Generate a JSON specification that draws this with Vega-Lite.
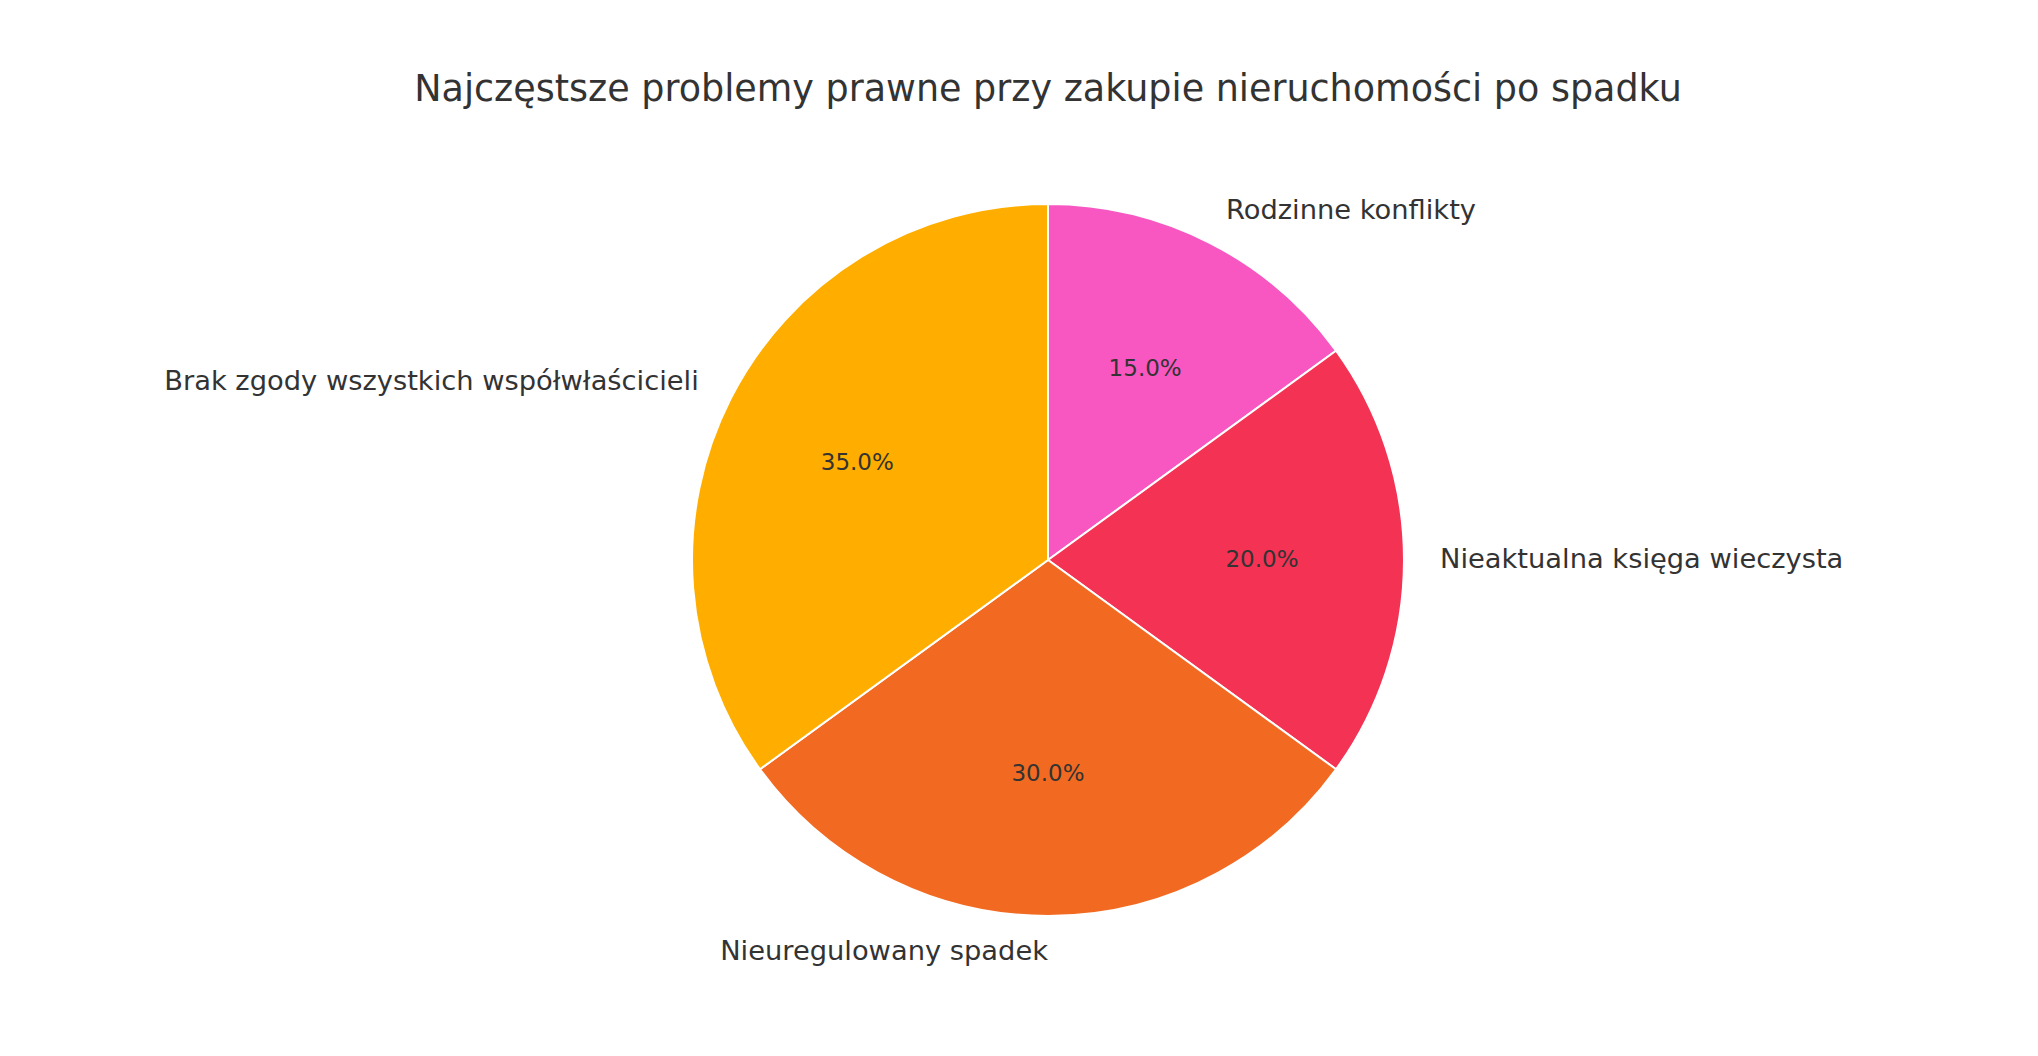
{
  "$schema": "https://vega.github.io/schema/vega-lite/v6.json",
  "autosize": {"type": "none"},
  "width": 1970,
  "height": 712,
  "padding": {"left": 63, "top": 204, "right": 5, "bottom": 140},
  "background": "white",
  "title": {
    "text": "Najczęstsze problemy prawne przy zakupie nieruchomości po spadku",
    "font": "DejaVu Sans",
    "fontSize": 36.5,
    "fontWeight": "normal",
    "color": "#333333",
    "anchor": "middle",
    "offset": 88
  },
  "data": {
    "values": [
      {"category": "Rodzinne konflikty", "value": 15, "ord": 1},
      {"category": "Nieaktualna księga wieczysta", "value": 20, "ord": 2},
      {"category": "Nieuregulowany spadek", "value": 30, "ord": 3},
      {"category": "Brak zgody wszystkich współwłaścicieli", "value": 35, "ord": 4}
    ]
  },
  "transform": [
    {"calculate": "format(datum.value / 100, '.1%')", "as": "pct"}
  ],
  "encoding": {
    "theta": {"field": "value", "type": "quantitative", "stack": true},
    "order": {"field": "ord", "type": "quantitative", "sort": "ascending"}
  },
  "layer": [
    {
      "mark": {"type": "arc", "outerRadius": 356, "stroke": "white", "strokeWidth": 2},
      "encoding": {
        "color": {
          "field": "category",
          "type": "nominal",
          "scale": {
            "domain": ["Rodzinne konflikty", "Nieaktualna księga wieczysta", "Nieuregulowany spadek", "Brak zgody wszystkich współwłaścicieli"],
            "range": ["#f857c1", "#f43254", "#f26a21", "#ffae00"]
          },
          "legend": null
        }
      }
    },
    {
      "mark": {"type": "text", "radius": 214, "font": "DejaVu Sans", "fontSize": 23, "color": "#333333", "align": "center", "baseline": "middle"},
      "encoding": {"text": {"field": "pct", "type": "nominal"}}
    },
    {
      "mark": {"type": "text", "radius": 392, "font": "DejaVu Sans", "fontSize": 27.3, "color": "#333333", "align": "left", "baseline": "middle"},
      "encoding": {
        "text": {"condition": {"test": "datum.ord <= 2", "field": "category"}, "value": ""}
      }
    },
    {
      "mark": {"type": "text", "radius": 392, "font": "DejaVu Sans", "fontSize": 27.3, "color": "#333333", "align": "right", "baseline": "middle"},
      "encoding": {
        "text": {"condition": {"test": "datum.ord > 2", "field": "category"}, "value": ""}
      }
    }
  ],
  "config": {"view": {"stroke": null}}
}
